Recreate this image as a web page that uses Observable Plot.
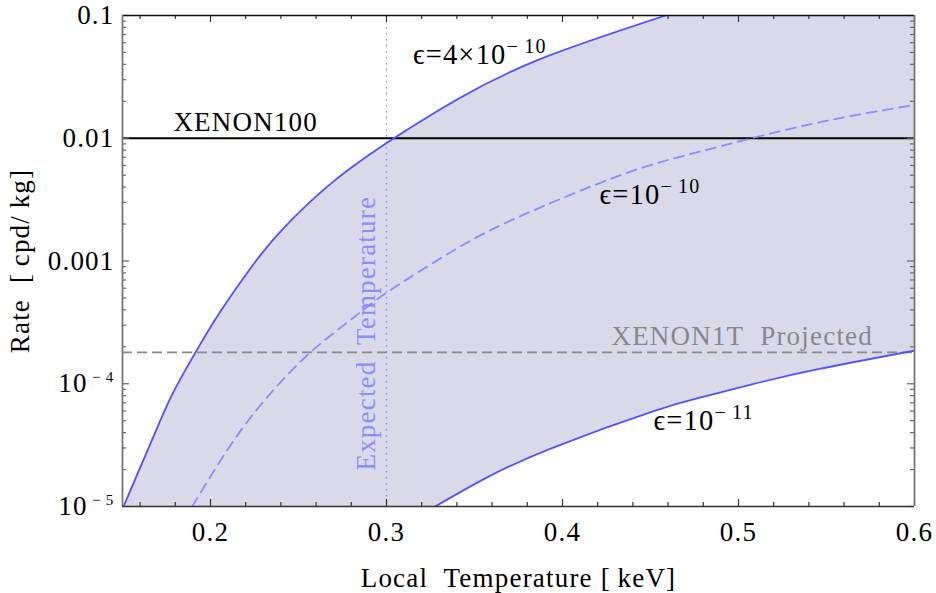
<!DOCTYPE html>
<html><head><meta charset="utf-8">
<script src="https://cdn.jsdelivr.net/npm/d3@7"></script>
<script src="https://cdn.jsdelivr.net/npm/@observablehq/plot@0.6"></script>
<style>body{margin:0;background:#fff}</style>
</head><body><div id="chart"></div>
<script>
// ---- data (Local Temperature in keV, Rate in cpd/kg) ----
const upperT    = [0.1506,0.1697,0.1792,0.1915,0.2057,0.2237,0.2417,0.2701,0.3042,0.3414,0.3883,0.4586];
const upperRate = [1.0e-5,4.37e-5,8.71e-5,1.80e-4,3.89e-4,9.12e-4,1.86e-3,4.47e-3,1.0e-2,2.12e-2,4.47e-2,0.1];
const midT      = [0.1896,0.2114,0.2322,0.2568,0.2814,0.3004,0.3382,0.3761,0.4332,0.4723,0.5074,0.5504,0.6];
const midRate   = [1.0e-5,3.16e-5,7.76e-5,1.80e-4,3.47e-4,5.56e-4,1.22e-3,2.32e-3,5.01e-3,7.41e-3,1.0e-2,1.39e-2,1.87e-2];
const lowT      = [0.3276,0.3569,0.3947,0.4514,0.4798,0.5081,0.5459,0.6];
const lowRate   = [1.0e-5,1.72e-5,3.02e-5,5.96e-5,7.80e-5,9.93e-5,1.32e-4,1.86e-4];
const xenon100 = 0.01;
const xenon1T  = 1.8e-4;
const expectedT = 0.3;

const xMajor = [0.2,0.3,0.4,0.5,0.6];
const xMinor = [0.16,0.18,0.22,0.24,0.26,0.28,0.32,0.34,0.36,0.38,0.42,0.44,0.46,0.48,0.52,0.54,0.56,0.58];
const yMajor = [1e-5,1e-4,1e-3,1e-2,1e-1];
const yTickLabels = ["10^\u2009\u2212\u20095","10^\u2009\u2212\u20094","0.001","0.01","0.1"];
const yMinor = [1e-5,1e-4,1e-3,1e-2].flatMap(d => [2,3,4,5,6,7,8,9].map(k => k*d));

const upper = upperT.map((t,i) => ({t, r: upperRate[i]}));
const mid   = midT.map((t,i) => ({t, r: midRate[i]}));
const low   = lowT.map((t,i) => ({t, r: lowRate[i]}));

const W = 936, H = 593, mL = 122, mR = 22, mT = 15, mB = 87;
const iw = W - mL - mR, ih = H - mT - mB;
const font = "'Liberation Serif','DejaVu Serif',serif";
const curve = "natural";

function ticksX(vals, len, color) {
  return [
    Plot.ruleX(vals, {x: d => d, insetTop: ih - len, stroke: color, strokeWidth: 1.2}),
    Plot.ruleX(vals, {x: d => d, insetBottom: ih - len, stroke: color, strokeWidth: 1.2})
  ];
}
function ticksY(vals, len, color) {
  return [
    Plot.ruleY(vals, {y: d => d, insetRight: iw - len, stroke: color, strokeWidth: 1.2}),
    Plot.ruleY(vals, {y: d => d, insetLeft: iw - len, stroke: color, strokeWidth: 1.2})
  ];
}
const epsStyle = {textAnchor: "start", lineAnchor: "bottom", text: d => d, fill: "#000", fontSize: 28.5};

const plot = Plot.plot({
  width: W, height: H,
  marginLeft: mL, marginRight: mR, marginTop: mT, marginBottom: mB,
  style: {fontFamily: font, fontSize: "27px", letterSpacing: "1.2px", background: "#fff", overflow: "visible"},
  x: {domain: [0.15, 0.6], axis: null},
  y: {type: "log", domain: [1e-5, 0.1], axis: null},
  marks: [
    Plot.frame({fill: "#d9d9ea", stroke: null}),
    Plot.areaY(upper, {x: "t", y1: "r", y2: () => 0.1, fill: "white", curve, clip: true}),
    Plot.areaY(low, {x: "t", y1: () => 1e-5, y2: "r", fill: "white", curve, clip: true}),
    Plot.ruleX([expectedT], {stroke: "#8c8cff", strokeWidth: 1.2, strokeDasharray: "1.5,4.5"}),
    Plot.ruleY([xenon1T], {stroke: "#8a8a8a", strokeWidth: 1.8, strokeDasharray: "10,5"}),
    Plot.ruleY([xenon100], {stroke: "#000", strokeWidth: 2}),
    Plot.line(mid, {x: "t", y: "r", stroke: "#8c8cff", strokeWidth: 1.8, strokeDasharray: "10,6.5", curve, clip: true}),
    Plot.line(upper, {x: "t", y: "r", stroke: "#5252ff", strokeWidth: 1.8, curve, clip: true}),
    Plot.line(low, {x: "t", y: "r", stroke: "#5252ff", strokeWidth: 1.8, curve, clip: true}),
    ...ticksX(xMajor, 7, "#333"), ...ticksX(xMinor, 4, "#333"),
    ...ticksY(yMajor, 7, "#666"), ...ticksY(yMinor, 4, "#666"),
    Plot.ruleY([0.1], {stroke: "#111", strokeWidth: 1.5}),
    Plot.ruleY([1e-5], {stroke: "#333", strokeWidth: 1.5}),
    Plot.ruleX([0.15], {stroke: "#777", strokeWidth: 1.8}),
    Plot.ruleX([0.6], {stroke: "#777", strokeWidth: 1.8}),
    Plot.axisX({ticks: xMajor, tickSize: 0, tickPadding: 15, tickFormat: d => d.toFixed(1), label: null, fill: "#000"}),
    Plot.axisY({ticks: yMajor, tickSize: 0, tickPadding: 8, tickFormat: d => yTickLabels[yMajor.indexOf(d)], label: null, fill: "#000"}),
    Plot.text(["Local\u00a0 Temperature [\u2009keV]"], {frameAnchor: "bottom", dy: 72, textAnchor: "middle", lineAnchor: "middle", text: d => d, fill: "#000"}),
    Plot.text(["Rate\u00a0 [\u2009cpd/\u2009kg]"], {frameAnchor: "left", dx: -102, rotate: -90, textAnchor: "middle", lineAnchor: "middle", text: d => d, fill: "#000"}),
    Plot.text(["XENON100"], {x: 0.22, y: xenon100, dy: -7, textAnchor: "middle", lineAnchor: "bottom", text: d => d, fill: "#000"}),
    Plot.text(["XENON1T\u00a0 Projected"], {x: 0.4278, y: xenon1T, dy: -7, textAnchor: "start", lineAnchor: "bottom", text: d => d, fill: "#888"}),
    Plot.text(["\u03f5=4\u00d710^\u2212\u200910"], {x: 0.315, y: 0.0406, ...epsStyle}),
    Plot.text(["\u03f5=10^\u2212\u200910"], {x: 0.421, y: 0.00294, ...epsStyle}),
    Plot.text(["\u03f5=10^\u2212\u200911"], {x: 0.4517, y: 4.22e-5, ...epsStyle}),
    Plot.text(["Expected\u00a0 Temperature"], {x: expectedT, y: 2.58e-4, dx: -12, rotate: -90, textAnchor: "middle", lineAnchor: "bottom", text: d => d, fill: "#8c8cff"})
  ]
});

// superscripts: split "base^sup" into tspans
const ns = "http://www.w3.org/2000/svg";
plot.querySelectorAll("text").forEach(t => {
  const s = t.textContent;
  if (!s.includes("^")) return;
  const [base, sup] = s.split("^");
  const isTick = !!t.closest("[aria-label$='tick label']");
  t.textContent = "";
  const a = document.createElementNS(ns, "tspan");
  a.textContent = base;
  const b = document.createElementNS(ns, "tspan");
  b.textContent = sup;
  b.setAttribute("font-size", isTick ? "15px" : "20px");
  b.setAttribute("dy", isTick ? "-10" : "-11");
  t.appendChild(a); t.appendChild(b);
});
document.getElementById("chart").appendChild(plot);
</script>
</body></html>
